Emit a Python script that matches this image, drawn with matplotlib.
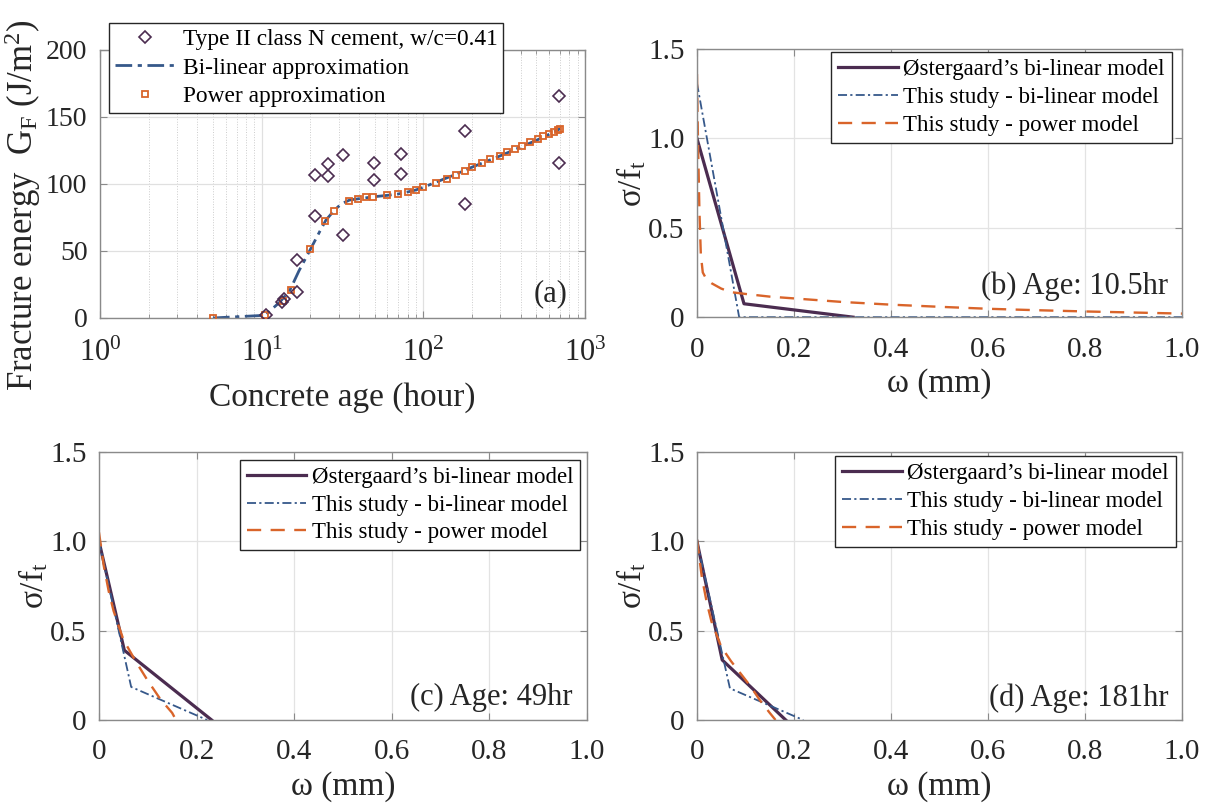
import matplotlib
matplotlib.use("Agg")
import matplotlib.pyplot as plt
from matplotlib.ticker import LogLocator, NullFormatter

plt.rcParams['font.family'] = ['Liberation Serif', 'DejaVu Serif']
plt.rcParams['mathtext.fontset'] = 'custom'
plt.rcParams['mathtext.rm'] = 'Liberation Serif'
plt.rcParams['mathtext.it'] = 'Liberation Serif:italic'

# ---- panel (a): fracture energy vs age ----
test_age = [10.7, 13.3, 13.8, 16.5, 16.5, 21.4, 21.4, 25.9, 25.9, 32, 32,
            49.5, 49.5, 73, 73, 180, 180, 695, 695]
test_gf = [2.5, 12, 14, 43, 19.5, 106.5, 76, 115, 105.8, 121.4, 62,
           115.7, 103.3, 122, 107.3, 139.5, 84.8, 165.3, 115.7]

bilin_age = [5, 10.5, 13, 15, 17, 20, 23, 25, 28, 31, 35, 40, 50, 60, 70, 80,
             90, 100, 150, 200, 300, 400, 500, 600, 705]
bilin_gf = [0, 2, 12, 21, 35, 51, 65, 73, 80, 85, 88, 89, 90.5, 91.5, 92.5,
            94, 95.5, 97.5, 106, 112.5, 121, 127.5, 132.5, 137, 141.3]

power_age = [5, 10.5, 13.5, 15.2, 20, 24.8, 28, 34.8, 39.4, 44.5, 49, 60, 70,
             80, 90, 100, 120, 140, 160, 180, 200, 230, 260, 300, 330, 370,
             410, 460, 510, 550, 600, 640, 680, 705]
power_gf = [0, 2, 13, 20.6, 51.5, 72.6, 80, 87.5, 89, 90, 90.5, 91.5, 92.5,
            94, 95.5, 97.5, 101, 104, 107, 110, 112.5, 115.5, 118.5, 121,
            123.5, 126, 128.5, 131, 133.5, 135.5, 137.5, 139, 140, 141.3]

# ---- panels (b)-(d): softening curves ----
b_ost_w = [0, 0.097, 0.322]
b_ost_s = [1.0, 0.075, 0.0]
b_bil_w = [0, 0.087, 1.0]
b_bil_s = [1.31, 0.0, 0.0]
b_pow_w = [0, 0.002, 0.005, 0.008, 0.012, 0.02, 0.03, 0.05, 0.07, 0.1, 0.15,
           0.2, 0.25, 0.3, 0.4, 0.5, 0.6, 0.7, 0.8, 0.9, 1.0]
b_pow_s = [1.36, 1.0, 0.6, 0.35, 0.25, 0.21, 0.19, 0.16, 0.14, 0.13, 0.115,
           0.105, 0.095, 0.085, 0.07, 0.058, 0.047, 0.039, 0.032, 0.026, 0.02]

c_ost_w = [0, 0.052, 0.231]
c_ost_s = [1.0, 0.39, 0.0]
c_bil_w = [0, 0.066, 0.222]
c_bil_s = [1.0, 0.185, 0.0]
c_pow_w = [0, 0.01, 0.02, 0.03, 0.05, 0.075, 0.1, 0.125, 0.15, 0.158]
c_pow_s = [1.05, 0.86, 0.72, 0.61, 0.45, 0.33, 0.22, 0.12, 0.04, 0.0]

d_ost_w = [0, 0.052, 0.183]
d_ost_s = [1.0, 0.336, 0.0]
d_bil_w = [0, 0.068, 0.219]
d_bil_s = [1.0, 0.177, 0.0]
d_pow_w = [0, 0.01, 0.02, 0.03, 0.05, 0.07, 0.09, 0.11, 0.13, 0.15, 0.162]
d_pow_s = [1.01, 0.8, 0.66, 0.55, 0.41, 0.33, 0.26, 0.19, 0.11, 0.04, 0.0]

purple = '#4b2c50'
blue = '#36588a'
orange = '#d9642a'
spine_col = '#8a8a8a'
txt_col = '#262626'

fig = plt.figure(figsize=(12.1, 8.05), dpi=100)


def style_axes(ax):
    for s in ax.spines.values():
        s.set_color(spine_col)
        s.set_linewidth(1.0)
    ax.tick_params(which='both', direction='in', top=True, right=True,
                   color=spine_col, labelsize=21, labelcolor=txt_col)
    ax.tick_params(which='major', length=5)
    ax.tick_params(which='minor', length=3)
    ax.tick_params(axis='x', pad=14)
    ax.tick_params(axis='y', pad=9)
    ax.set_axisbelow(True)


# (a)
ax = fig.add_axes([0.0826, 0.605, 0.4008, 0.333])
ax.plot(bilin_age, bilin_gf, color=blue, lw=2.0, ls='-.', dashes=(6, 2, 1.5, 2),
        label='Bi-linear approximation', zorder=2)
ax.plot(power_age, power_gf, ls='none', marker='s', ms=4.5, mfc='none',
        mec=orange, mew=1.3, label='Power approximation', zorder=3)
ax.plot(test_age, test_gf, ls='none', marker='D', ms=6, mfc='none',
        mec=purple, mew=1.2, label='Type II class N cement, w/c=0.41', zorder=4)
ax.set_xscale('log')
ax.set_xlim(1, 1000)
ax.set_ylim(0, 200)
ax.set_yticks([0, 50, 100, 150, 200])
ax.xaxis.set_minor_locator(LogLocator(base=10, subs=range(2, 10), numticks=10))
ax.xaxis.set_minor_formatter(NullFormatter())
ax.set_xticks([1, 10, 100, 1000])
ax.set_xticklabels(['$10^{0}$', '$10^{1}$', '$10^{2}$', '$10^{3}$'])
style_axes(ax)
ax.tick_params(axis='x', labelsize=22, pad=15)
ax.tick_params(axis='y', labelsize=20, pad=9)
ax.grid(True, which='major', color='#e0e0e0', lw=0.9)
ax.grid(True, which='minor', axis='x', color='#cccccc', lw=0.7, ls=':')
ax.set_xlabel('Concrete age (hour)', fontsize=24, color=txt_col, labelpad=10)
ax.set_ylabel('Fracture energy  G$_{\\mathrm{F}}$ (J/m$^2$)', fontsize=25,
              color=txt_col)
ax.yaxis.set_label_coords(-0.118, 0.42)
h, l = ax.get_legend_handles_labels()
leg = ax.legend([h[2], h[0], h[1]], [l[2], l[0], l[1]], loc='upper left',
                bbox_to_anchor=(0.019, 1.10), fontsize=16.8, frameon=True,
                fancybox=False, edgecolor=txt_col, framealpha=1,
                handlelength=2.6, handletextpad=0.3, labelspacing=0.3,
                borderpad=0.25, borderaxespad=0)
leg.get_frame().set_linewidth(1.0)
ax.text(0.965, 0.09, '(a)', transform=ax.transAxes, fontsize=22,
        ha='right', va='center', color=txt_col)


def soft_panel(rect, ow, os_, bw, bs, pw, ps, tag, ty, anchor):
    ax = fig.add_axes(rect)
    ax.plot(ow, os_, color=purple, lw=2.3, label="Østergaard’s bi-linear model")
    ax.plot(bw, bs, color=blue, lw=1.3, ls='-.', dashes=(5, 1.8, 1.2, 1.8),
            label='This study - bi-linear model')
    ax.plot(pw, ps, color=orange, lw=1.7, ls='--', dashes=(6, 4),
            label='This study - power model')
    ax.set_xlim(0, 1)
    ax.set_ylim(0, 1.5)
    ax.set_xticks([0, 0.2, 0.4, 0.6, 0.8, 1.0])
    ax.set_xticklabels(['0', '0.2', '0.4', '0.6', '0.8', '1.0'])
    ax.set_yticks([0, 0.5, 1.0, 1.5])
    ax.set_yticklabels(['0', '0.5', '1.0', '1.5'])
    style_axes(ax)
    ax.grid(True, color='#e3e3e3', lw=0.9)
    ax.set_xlabel('ω (mm)', fontsize=24, color=txt_col, labelpad=4)
    ax.set_ylabel('σ/f$_{\\mathrm{t}}$', fontsize=24, color=txt_col)
    ax.yaxis.set_label_coords(-0.1, 0.5)
    leg = ax.legend(loc='upper right', bbox_to_anchor=anchor,
                    fontsize=16.5, frameon=True, fancybox=False,
                    edgecolor=txt_col, framealpha=1, handlelength=2.6,
                    handletextpad=0.25, labelspacing=0.3, borderpad=0.3,
                    borderaxespad=0)
    leg.get_frame().set_linewidth(1.0)
    ax.text(0.972, ty, tag, transform=ax.transAxes, fontsize=22,
            ha='right', va='center', color=txt_col)
    return ax


soft_panel([0.576, 0.606, 0.4008, 0.333], b_ost_w, b_ost_s, b_bil_w, b_bil_s,
           b_pow_w, b_pow_s, '(b) Age: 10.5hr', 0.115, (0.979, 0.989))
soft_panel([0.0818, 0.1056, 0.403, 0.333], c_ost_w, c_ost_s, c_bil_w, c_bil_s,
           c_pow_w, c_pow_s, '(c) Age: 49hr', 0.085, (0.987, 0.971))
soft_panel([0.576, 0.1056, 0.4008, 0.333], d_ost_w, d_ost_s, d_bil_w, d_bil_s,
           d_pow_w, d_pow_s, '(d) Age: 181hr', 0.08, (0.987, 0.983))

fig.savefig('out.png', dpi=100)
